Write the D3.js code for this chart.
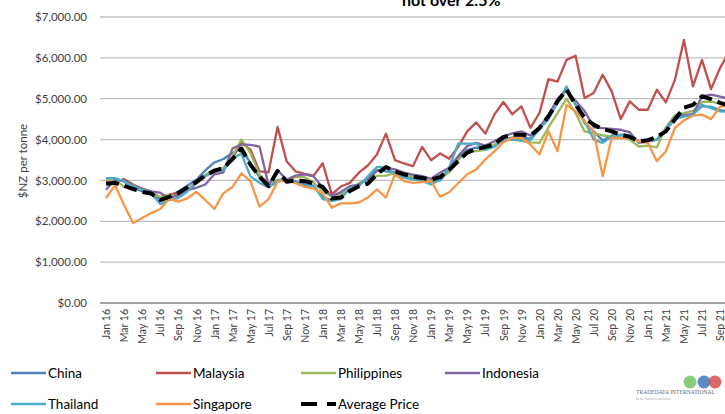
<!DOCTYPE html>
<html>
<head>
<meta charset="utf-8">
<script src="https://cdn.jsdelivr.net/npm/d3@7"></script>
<style>
  body { margin: 0; background: #fff; }
  svg { display: block; font-family: Lato, "Open Sans", sans-serif; }
</style>
</head>
<body>
<div id="chart"></div>
<script>
// monthly prices, Jan 2016 .. Oct 2021 ($NZ per tonne)
const china = [3030,3030,2975,2835,2730,2650,2540,2600,2730,2870,
    3015,3245,3440,3525,3670,3770,3425,3080,2835,2975,
    3015,2975,2900,2860,2600,2500,2600,2800,2900,3050,
    3250,3220,3200,3100,3050,3000,2950,3000,3250,3550,
    3750,3800,3800,3870,4000,4050,4050,4020,4250,4550,
    4950,5250,4850,4400,4200,3980,4100,4120,4100,3950,
    3960,4000,4220,4500,4580,4620,4820,4800,4720,4700];
const malaysia = [2950,2960,3030,2900,2800,2720,2580,2650,2700,2760,
    2950,3120,3200,3300,3550,3920,3750,3220,3200,4310,
    3470,3220,3160,3120,3420,2660,2850,2940,3190,3365,
    3635,4145,3495,3415,3350,3820,3495,3660,3530,3820,
    4200,4420,4145,4610,4920,4620,4813,4285,4650,5480,
    5420,5950,6050,5015,5140,5585,5180,4500,4935,4730,
    4730,5220,4910,5460,6440,5300,5950,5235,5750,6150];
const philippines = [3015,3015,2840,2890,2770,2690,2600,2650,2600,2770,
    2920,3140,3260,3300,3590,4000,3670,3140,2930,3015,
    3015,3080,3080,2950,2740,2600,2660,2780,2930,3040,
    3110,3120,3180,3150,3100,3080,3000,3050,3200,3500,
    3700,3720,3750,3880,4000,4000,3970,3930,3920,4300,
    4650,5000,4650,4200,4150,4100,4080,4050,4000,3830,
    3850,3810,4300,4600,4650,4700,4920,4930,4880,4850];
const indonesia = [2770,3015,3000,2870,2790,2730,2700,2560,2650,2760,
    2820,2900,3150,3200,3780,3880,3870,3830,2880,3250,
    3020,3120,3150,3100,2820,2620,2715,2860,2900,3025,
    3230,3310,3270,3190,3145,3105,3040,3190,3310,3595,
    3840,3920,3855,3960,4080,4150,4200,4100,4300,4600,
    5000,5200,4950,4700,4300,4280,4260,4240,4180,3920,
    3950,4000,4250,4550,4600,4620,5060,5100,5050,5000];
const thailand = [3055,3055,2975,2850,2770,2690,2420,2520,2565,2730,
    2935,3100,3220,3245,3550,3650,3100,2940,2835,3000,
    3015,2950,2860,2880,2540,2500,2540,2820,2860,3100,
    3330,3310,3150,3070,3025,2985,2900,3025,3310,3900,
    3900,3900,3750,3820,4000,4000,3990,3980,4250,4500,
    4900,5300,4850,4450,4000,3920,4080,4100,4120,3950,
    3980,4000,4250,4500,4560,4600,4850,4770,4690,4680];
const singapore = [2570,2880,2400,1960,2080,2200,2300,2550,2480,2560,
    2720,2520,2300,2690,2840,3170,2980,2360,2540,2970,
    3010,2930,2840,2800,2680,2335,2440,2440,2460,2580,
    2780,2580,3150,2985,2940,2960,2985,2600,2710,2930,
    3150,3270,3510,3710,3935,4040,4040,3880,3635,4200,
    3715,4850,4690,4450,4200,3105,4040,4040,4040,3960,
    3920,3470,3715,4285,4470,4585,4610,4500,4800,4850];
const average = [2920,2940,2870,2790,2720,2680,2520,2600,2690,2830,
    2960,3120,3240,3300,3520,3780,3380,3090,2860,3230,
    2970,3000,2980,2930,2840,2560,2580,2740,2860,2920,
    3150,3330,3220,3150,3090,3060,3020,3080,3260,3470,
    3680,3770,3820,3880,4060,4120,4120,4100,4285,4570,
    4935,5220,4855,4530,4365,4260,4200,4120,4065,3960,
    3985,4065,4200,4490,4780,4850,5060,4990,4900,4830];

const months = d3.timeMonth.range(new Date(2016, 0, 1), new Date(2021, 10, 1)).map(d3.timeFormat("%b %y"));
const yTicks = [0, 1000, 2000, 3000, 4000, 5000, 6000, 7000];

const series = [
    { name: "China", values: china, color: "#4F81BD" },
    { name: "Malaysia", values: malaysia, color: "#C0504D" },
    { name: "Philippines", values: philippines, color: "#9BBB59" },
    { name: "Indonesia", values: indonesia, color: "#8064A2" },
    { name: "Thailand", values: thailand, color: "#4BACC6" },
    { name: "Singapore", values: singapore, color: "#F79646" },
    { name: "Average Price", values: average, color: "#000", dashed: true }
];

const width = 725, height = 414;
const svg = d3.select("#chart").append("svg")
    .attr("width", width)
    .attr("height", height);

const plotLeft = 101.5, step = 9.03;
const x = d3.scalePoint()
    .domain(months)
    .range([plotLeft, plotLeft + months.length * step])
    .padding(0.5);
const y = d3.scaleLinear().domain([0, 7000]).range([303, 17]);

// title (only its last line peeks in at the top)
svg.append("text")
    .attr("x", 402)
    .attr("y", 6)
    .attr("font-size", 16)
    .attr("font-weight", "bold")
    .attr("fill", "#000")
    .text("not over 2.5%");

// gridlines
svg.append("g")
    .selectAll("line")
    .data(yTicks.filter(d => d > 0))
    .enter().append("line")
    .attr("x1", 100).attr("x2", width)
    .attr("y1", d => y(d)).attr("y2", d => y(d))
    .attr("stroke", "#bfbfbf")
    .attr("stroke-width", 1.3);

// y axis labels
const yAxis = svg.append("g")
    .attr("transform", "translate(100,0)")
    .call(d3.axisLeft(y).tickValues(yTicks).tickFormat(d3.format("$,.2f")).tickSize(0).tickPadding(13));
yAxis.select(".domain").remove();
yAxis.selectAll("text")
    .attr("font-size", 11.5)
    .attr("font-family", "Lato, sans-serif")
    .attr("fill", "#404040");

svg.append("text")
    .attr("transform", "translate(27,161) rotate(-90)")
    .attr("text-anchor", "middle")
    .attr("font-size", 11.5)
    .attr("fill", "#404040")
    .text("$NZ per tonne");

// x axis
const xAxis = svg.append("g")
    .attr("transform", "translate(0,303)")
    .call(d3.axisBottom(x).tickValues(months.filter((m, i) => i % 2 === 0)).tickSize(0).tickPadding(0));
xAxis.select(".domain")
    .attr("d", `M100,0H${width}`)
    .attr("stroke", "#868686")
    .attr("stroke-width", 1.3);
xAxis.selectAll("text")
    .attr("font-size", 10.5)
    .attr("font-family", "Lato, sans-serif")
    .attr("fill", "#404040")
    .attr("text-anchor", "end")
    .attr("transform", "rotate(-90)")
    .attr("x", -6)
    .attr("y", 0)
    .attr("dy", "0.35em");

// lines
const line = d3.line()
    .x((d, i) => x(months[i]))
    .y(d => y(d));

svg.append("g")
    .selectAll("path")
    .data(series)
    .enter().append("path")
    .attr("d", d => line(d.values))
    .attr("fill", "none")
    .attr("stroke", d => d.color)
    .attr("stroke-width", d => d.dashed ? 4 : 2.3)
    .attr("stroke-dasharray", d => d.dashed ? "13,6" : null)
    .attr("stroke-linejoin", "round");

// legend
const legendPos = [[11, 373], [156, 373], [301, 373], [445, 373], [11, 404], [156, 404], [301, 404]];
const legend = svg.append("g")
    .selectAll("g")
    .data(series)
    .enter().append("g")
    .attr("transform", (d, i) => `translate(${legendPos[i][0]},${legendPos[i][1]})`);
legend.append("line")
    .attr("x1", 0).attr("x2", 35)
    .attr("stroke", d => d.color)
    .attr("stroke-width", d => d.dashed ? 4 : 2.3)
    .attr("stroke-dasharray", d => d.dashed ? "16,10" : null);
legend.append("text")
    .attr("x", 37)
    .attr("dy", "0.35em")
    .attr("font-size", 13.5)
    .attr("fill", "#000")
    .text(d => d.name);

// logo
const logo = svg.append("g");
[["#6bbf59", 690], ["#2f6fb5", 704], ["#d64541", 715]].forEach(([c, cx]) => {
    logo.append("circle")
        .attr("cx", cx).attr("cy", 382).attr("r", 6.5)
        .attr("fill", c).attr("opacity", 0.8);
});
logo.append("text")
    .attr("x", 636).attr("y", 394)
    .attr("font-family", "Liberation Serif, serif")
    .attr("font-size", 5.6)
    .attr("fill", "#666")
    .text("TRADEDATA INTERNATIONAL");
logo.append("text")
    .attr("x", 636).attr("y", 400)
    .attr("font-family", "Liberation Serif, serif")
    .attr("font-size", 3.5)
    .attr("fill", "#aaa")
    .text("Better business decisions");
</script>
</body>
</html>
